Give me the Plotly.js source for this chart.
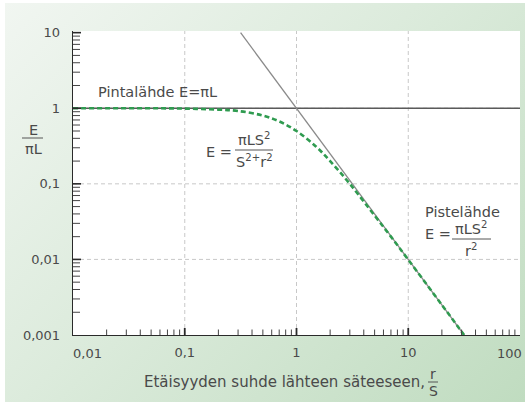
<!DOCTYPE html>
<html>
<head>
<meta charset="utf-8">
<script src="https://cdn.plot.ly/plotly-3.0.1.min.js"></script>
<style>
html,body{margin:0;padding:0;background:#ffffff;}
#bg{position:absolute;left:5px;top:3px;width:520px;height:399px;
background:linear-gradient(135deg,#f1f6f1 0%,#dcebdc 45%,#c0dcc0 100%);}
#chart{position:absolute;left:0;top:0;width:525px;height:402px;}
#ticks{position:absolute;left:0;top:0;width:525px;height:402px;pointer-events:none;z-index:5;}
</style>
</head>
<body>
<div id="bg"></div>
<div id="chart"></div>
<svg id="ticks" width="525" height="402" xmlns="http://www.w3.org/2000/svg"></svg>
<script>
// ---- data ----
const xTickVals = [0.01, 0.1, 1, 10, 100];
const xTickText = ["0,01", "0,1", "1", "10", "100"];
const yTickVals = [0.001, 0.01, 0.1, 1, 10];
const yTickText = ["0,001", "0,01", "0,1", "1", "10"];
const minorSteps = [2, 3, 4, 5, 6, 7, 8, 9];

// surface source E = pi L (constant)
const surfX = [0.01, 100];
const surfY = [1, 1];

// point source E = pi L S^2 / r^2
const pointX = [0.316, 31.6];
const pointY = [10, 0.001];

// disc source E = pi L S^2 / (S^2 + r^2)
const discX = [0.01, 0.05, 0.1, 0.2, 0.3, 0.5, 0.7, 1, 1.5, 2, 3, 5, 7, 10, 20, 31.6];
const discY = [1, 1, 0.99, 0.96, 0.92, 0.8, 0.67, 0.5, 0.31, 0.2, 0.1, 0.038, 0.02, 0.0099, 0.0025, 0.001];

// ---- layout helpers ----
const L = 73, R = 520, T = 31, B = 335;
const W = R - L, H = B - T;
const px = x => (x - L) / W;          // pixel -> paper
const py = y => (B - y) / H;
const XRANGE = [-2, 2];
const YRANGE = [-3, 1.022];
const xv = v => (Math.log10(v) - XRANGE[0]) / (XRANGE[1] - XRANGE[0]);  // axis value -> paper
const yv = v => (Math.log10(v) - YRANGE[0]) / (YRANGE[1] - YRANGE[0]);

const FONT = "DejaVu Sans, Liberation Sans, sans-serif";
const TXT = "#4a4a4a";

const traces = [
  {x: surfX, y: surfY, mode: "lines", line: {color: "#5a5a5a", width: 1.6}, hoverinfo: "skip"},
  {x: pointX, y: pointY, mode: "lines", line: {color: "#8a8a8a", width: 1.3}, hoverinfo: "skip"},
  {x: discX, y: discY, mode: "lines", line: {color: "#2f9b50", width: 2.6, dash: "5px,3px", shape: "spline"}, hoverinfo: "skip"}
];

function ann(text, x, y, xanchor, size, yanchor) {
  return {text: text, xref: "paper", yref: "paper", x: px(x), y: py(y),
    xanchor: xanchor, yanchor: yanchor || "middle", showarrow: false,
    font: {family: FONT, size: size || 14.5, color: TXT}};
}
function seg(x0, x1, y0, y1, color, width, dash, layer) {
  return {type: "line", xref: "paper", yref: "paper", x0: x0, x1: x1, y0: y0, y1: y1,
    layer: layer || "above", line: {color: color, width: width, dash: dash || "solid"}};
}
function bar(x0, x1, y) {
  return seg(px(x0), px(x1), py(y), py(y), "#555555", 1);
}

const annotations = [
  ann("Pintalähde E=πL", 96, 92, "left"),
  ann("E =", 204, 152, "left"),
  ann("πLS<sup>2</sup>", 254, 150, "center", 14.5, "bottom"),
  ann("S<sup>2+</sup>r<sup>2</sup>", 254, 150, "center", 14.5, "top"),
  ann("Pistelähde", 423, 212, "left"),
  ann("E =", 423, 234, "left"),
  ann("πLS<sup>2</sup>", 471, 239, "center", 14.5, "bottom"),
  ann("r<sup>2</sup>", 471, 239, "center", 14.5, "top"),
  ann("E", 33, 130, "center"),
  ann("πL", 33, 149, "center"),
  ann("Etäisyyden suhde lähteen säteeseen,", 142, 382, "left", 15),
  ann("r", 433, 374, "center", 14),
  ann("S", 433, 391, "center", 14),
  // end labels of the x axis sit inside the plot width, as in the picture
  ann(xTickText[0], 71, 353, "left", 13),
  ann(xTickText[xTickText.length - 1], 524, 353, "right", 13)
];

const shapes = [
  bar(235, 273, 150),
  bar(452, 491, 239),
  bar(22, 43, 138),
  bar(428, 438, 382)
];

// dashed grid at the inner decades
xTickVals.slice(1, -1).forEach(v => shapes.push(seg(xv(v), xv(v), 0, 1, "#c8c8c8", 1, "4px,3px", "below")));
yTickVals.slice(1, -1).forEach(v => shapes.push(seg(0, 1, yv(v), yv(v), "#c8c8c8", 1, "4px,3px", "below")));

// major axes: labels from the arrays (end x labels drawn as annotations)
const xMajorText = xTickText.map((t, i) => (i === 0 || i === xTickText.length - 1) ? "" : t);

const layout = {
  width: 525, height: 402,
  margin: {l: L, r: 525 - R, t: T, b: 402 - B, pad: 0},
  paper_bgcolor: "rgba(0,0,0,0)",
  plot_bgcolor: "#ffffff",
  showlegend: false,
  xaxis: {
    type: "log", range: XRANGE,
    showline: true, linecolor: "#2a2a2a", linewidth: 1.3,
    ticks: "", showgrid: false, zeroline: false,
    tickmode: "array", tickvals: xTickVals, ticktext: xMajorText, ticklabelstandoff: 5,
    tickfont: {family: FONT, size: 13, color: TXT}
  },
  yaxis: {
    type: "log", range: YRANGE,
    showline: true, linecolor: "#2a2a2a", linewidth: 1.3,
    ticks: "", showgrid: false, zeroline: false,
    tickmode: "array", tickvals: yTickVals, ticktext: yTickText, ticklabelstandoff: 9,
    tickfont: {family: FONT, size: 13, color: TXT}
  },
  annotations: annotations,
  shapes: shapes
};

// inside ticks along the axes, positioned with the plot's axis scales
function drawTicks(gd) {
  try {
    const svg = document.getElementById("ticks");
    const NS = "http://www.w3.org/2000/svg";
    const fl = gd && gd._fullLayout;
    const xa = fl && fl.xaxis, ya = fl && fl.yaxis;
    const ok = xa && ya && typeof xa.l2p === "function" && typeof ya.l2p === "function" &&
               isFinite(xa._offset) && isFinite(ya._offset) && ya._length > 0;
    const xAt = ok ? (v => xa._offset + xa.l2p(Math.log10(v))) : (v => L + xv(v) * W);
    const yAt = ok ? (v => ya._offset + ya.l2p(Math.log10(v))) : (v => B - yv(v) * H);
    const x0 = ok ? xa._offset : L;
    const y0 = ok ? ya._offset + ya._length : B;
    while (svg.firstChild) svg.removeChild(svg.firstChild);
    function line(a, b, c, d, col, w) {
      const el = document.createElementNS(NS, "line");
      el.setAttribute("x1", a); el.setAttribute("y1", b);
      el.setAttribute("x2", c); el.setAttribute("y2", d);
      el.setAttribute("stroke", col); el.setAttribute("stroke-width", w);
      svg.appendChild(el);
    }
    xTickVals.slice(0, -1).forEach(d => minorSteps.forEach(m => {
      const x = xAt(d * m); line(x, y0, x, y0 - 5.5, "#444444", 1);
    }));
    yTickVals.slice(0, -1).forEach(d => minorSteps.forEach(m => {
      const y = yAt(d * m); line(x0, y, x0 + 7, y, "#444444", 1);
    }));
    xTickVals.slice(1, -1).forEach(v => { const x = xAt(v); line(x, y0, x, y0 - 7, "#2a2a2a", 1.8); });
    yTickVals.slice(1).forEach(v => { const y = yAt(v); line(x0, y, x0 + 8, y, "#2a2a2a", 1.6); });
  } catch (e) { /* keep the chart even if ticks fail */ }
}

const gdEl = document.getElementById("chart");
drawTicks(null);  // immediate placement so the ticks are present at once
let p;
try {
  p = Plotly.newPlot(gdEl, traces, layout, {displayModeBar: false, staticPlot: true});
} catch (e) { p = null; }
drawTicks(gdEl);
if (p && p.then) p.then(() => drawTicks(gdEl), () => drawTicks(gdEl));
setTimeout(() => drawTicks(gdEl), 0);
setTimeout(() => drawTicks(gdEl), 200);
</script>
</body>
</html>
